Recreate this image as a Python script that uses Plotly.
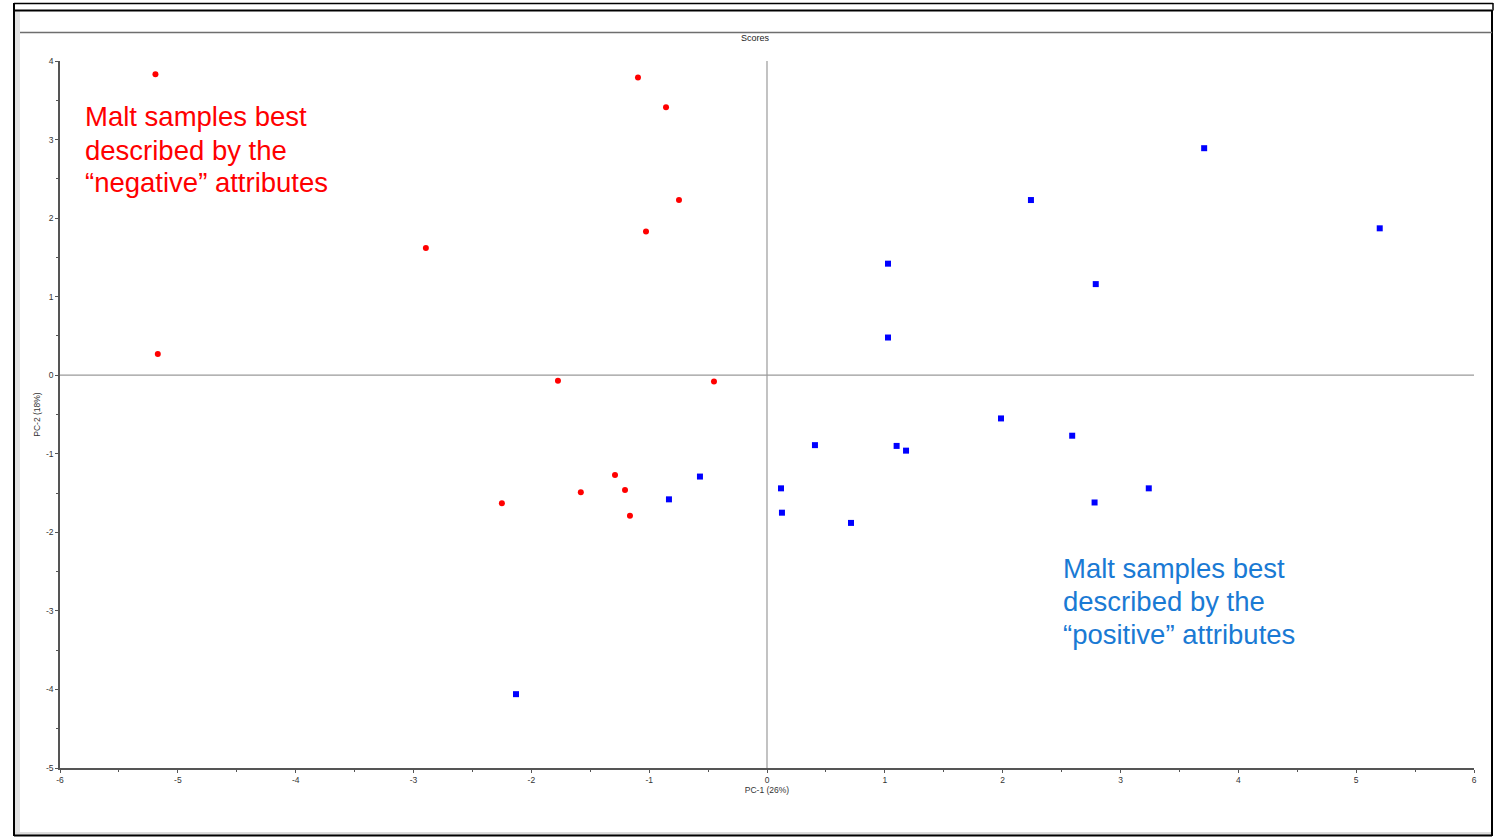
import plotly.graph_objects as go

# Negative-attribute malt samples (red circles)
neg_x = [-5.19, -1.095, -0.857, -0.747, -1.027, -2.895, -5.17, -1.774, -0.45, -1.29, -1.58, -1.205, -2.25, -1.163]
neg_y = [3.83, 3.79, 3.41, 2.23, 1.83, 1.62, 0.27, -0.07, -0.08, -1.27, -1.49, -1.46, -1.63, -1.79]

# Positive-attribute malt samples (blue squares)
pos_x = [3.71, 2.24, 5.20, 1.027, 2.79, 1.027, 1.986, 2.59, 0.407, 1.10, 1.18, -0.569, -0.832, 0.119, 3.24, 2.78, 0.127, 0.713, -2.13]
pos_y = [2.89, 2.23, 1.87, 1.42, 1.16, 0.48, -0.55, -0.77, -0.89, -0.90, -0.96, -1.29, -1.58, -1.44, -1.44, -1.62, -1.75, -1.88, -4.06]

x_ticks = [-6, -5, -4, -3, -2, -1, 0, 1, 2, 3, 4, 5, 6]
x_tick_labels = ["-6", "-5", "-4", "-3", "-2", "-1", "0", "1", "2", "3", "4", "5", "6"]
y_ticks = [-5, -4, -3, -2, -1, 0, 1, 2, 3, 4]
y_tick_labels = ["-5", "-4", "-3", "-2", "-1", "0", "1", "2", "3", "4"]

neg_note = ["Malt samples best", "described by the", "“negative” attributes"]
pos_note = ["Malt samples best", "described by the", "“positive” attributes"]

W, H = 1499, 837
L, R, T, B = 60, 25, 61, 69
PW, PH = W - L - R, H - T - B


def px(x):
    return (x - L) / PW


def py(y):
    return (H - B - y) / PH


fig = go.Figure()
fig.add_trace(go.Scatter(x=neg_x, y=neg_y, mode="markers",
                         marker=dict(symbol="circle", size=6, color="#ff0000"),
                         showlegend=False, cliponaxis=False))
fig.add_trace(go.Scatter(x=pos_x, y=pos_y, mode="markers",
                         marker=dict(symbol="square", size=6, color="#0000ff"),
                         showlegend=False, cliponaxis=False))

shapes = []
# Zero lines
shapes.append(dict(type="line", xref="x", yref="paper", x0=0, x1=0, y0=0, y1=1,
                   line=dict(color="#9a9a9a", width=1.2), layer="below"))
shapes.append(dict(type="line", xref="paper", yref="y", x0=0, x1=1, y0=0, y1=0,
                   line=dict(color="#9a9a9a", width=1.2), layer="below"))


def hline(y, x0, x1, color="black", width=2):
    shapes.append(dict(type="line", xref="paper", yref="paper", x0=px(x0), x1=px(x1),
                       y0=py(y), y1=py(y), line=dict(color=color, width=width)))


def vline(x, y0, y1, color="black", width=2):
    shapes.append(dict(type="line", xref="paper", yref="paper", x0=px(x), x1=px(x),
                       y0=py(y0), y1=py(y1), line=dict(color=color, width=width)))

# grey left strip
shapes.append(dict(type="rect", xref="paper", yref="paper", x0=px(15), x1=px(20),
                   y0=py(834), y1=py(11), fillcolor="#e2e2e2", line=dict(width=0)))
# grey bottom strip
shapes.append(dict(type="rect", xref="paper", yref="paper", x0=px(15), x1=px(1491),
                   y0=py(835), y1=py(832), fillcolor="#dcdcdc", line=dict(width=0)))
hline(3.5, 14, 1493, width=1.5)
hline(10.5, 14, 1492, width=2)
vline(1493, 3, 10.5, width=1.5)
vline(14, 3, 836, width=2)
vline(1492, 10, 836, width=2)
hline(835.5, 14, 1492, width=2)
hline(32.5, 20, 1492, color="#6e6e6e", width=1.3)

annotations = [
    dict(text="Scores", xref="paper", yref="paper", x=px(755), y=py(38), showarrow=False,
         font=dict(size=9, color="#222", family="Liberation Sans"), xanchor="center", yanchor="middle"),
]
for i, line in enumerate(neg_note):
    annotations.append(dict(text=line, xref="paper", yref="paper", x=px(83), y=py(117 + 33 * i),
                            showarrow=False, xanchor="left", yanchor="middle",
                            font=dict(size=27.5, color="#ff0000", family="Liberation Sans")))
for i, line in enumerate(pos_note):
    annotations.append(dict(text=line, xref="paper", yref="paper", x=px(1061), y=py(568 + 33 * i),
                            showarrow=False, xanchor="left", yanchor="middle",
                            font=dict(size=27.5, color="#1a7ad4", family="Liberation Sans")))

fig.update_layout(
    width=W, height=H,
    margin=dict(l=L, r=R, t=T, b=B, pad=0),
    paper_bgcolor="white", plot_bgcolor="white",
    shapes=shapes, annotations=annotations,
    font=dict(family="Liberation Sans", size=8, color="#444"),
    xaxis=dict(range=[-6, 6], tickvals=x_ticks, ticktext=x_tick_labels, showgrid=False, zeroline=False,
               showline=True, linecolor="#555", linewidth=1.5,
               ticks="outside", ticklen=3, tickcolor="#555",
               minor=dict(dtick=0.5, ticks="outside", ticklen=2, tickcolor="#555"),
               title=dict(text="PC-1 (26%)", standoff=2, font=dict(size=8.5, color="#333")),
               tickfont=dict(size=8.5, color="#333")),
    yaxis=dict(range=[-5, 4], tickvals=y_ticks, ticktext=y_tick_labels, showgrid=False, zeroline=False,
               showline=True, linecolor="#555", linewidth=1.5,
               ticks="outside", ticklen=3, tickcolor="#555",
               minor=dict(dtick=0.5, ticks="outside", ticklen=2, tickcolor="#555"),
               title=dict(text="PC-2 (18%)", standoff=4, font=dict(size=8.5, color="#333")),
               tickfont=dict(size=8.5, color="#333")),
)

fig.write_html("out.html", config={"displayModeBar": False},
               post_script="document.body.style.margin='0px';document.body.style.overflow='hidden';")
